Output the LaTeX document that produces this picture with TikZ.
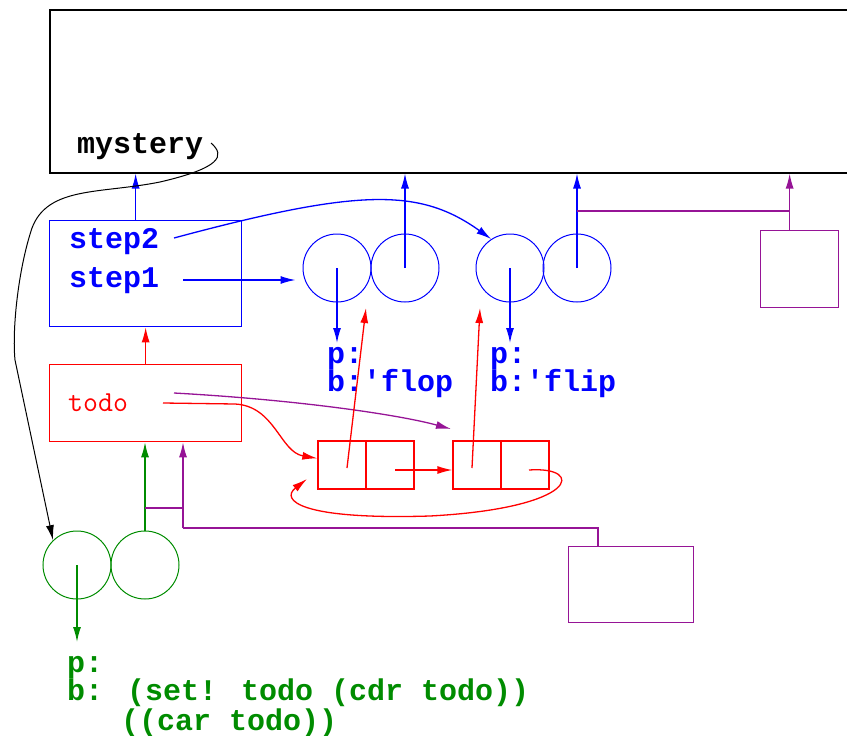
\documentclass[tikz,border=0pt]{standalone}
\usepackage{fontspec}
\newfontfamily\cour{Liberation Mono}
\usetikzlibrary{arrows.meta,calc}
\definecolor{lnblue}{RGB}{0,0,255}
\definecolor{lnred}{RGB}{255,0,0}
\definecolor{lngreen}{RGB}{0,140,0}
\definecolor{lnpurple}{RGB}{150,20,150}
\begin{document}
\begin{tikzpicture}[x=1pt,y=-1pt,
  ptr/.style={-{Latex[length=15pt,width=8pt]}},
  wire/.style={line width=1.3pt},
  pair/.style={circle, draw, line width=1pt, minimum size=68pt, inner sep=0pt},
  cell/.style={draw=lnred, line width=1.3pt, minimum width=48pt, minimum height=48pt, inner sep=0pt},
  frame/.style={draw, line width=1.3pt, anchor=north west, inner sep=0pt},
  code/.style={font=\cour\bfseries\fontsize{30}{30}\selectfont, inner sep=0pt, anchor=base west},
]
\useasboundingbox (0,0) rectangle (847,736);
\clip (0,0) rectangle (847,736);

% global environment (runs off to the right)
\node[frame, line width=1.5pt, minimum width=900pt, minimum height=163pt] (glob) at (49,9) {};
\node[code] (mys) at (77,153) {mystery};

% frame holding step1 / step2
\node[frame, draw=lnblue, minimum width=192pt, minimum height=106pt] (stepbox) at (49,220) {};
\node[code, lnblue] (s2) at (69,248) {step2};
\node[code, lnblue] (s1) at (69,287) {step1};

% frame holding todo
\node[frame, draw=lnred, minimum width=192pt, minimum height=77pt] (todobox) at (49,364) {};
\node[code, lnred, font=\ttfamily\fontsize{29}{29}\selectfont] (todo) at (68,411) {todo};

% empty procedure frames
\node[frame, draw=lnpurple, minimum width=78pt, minimum height=77pt] (pbox1) at (760,230) {};
\node[frame, draw=lnpurple, minimum width=125pt, minimum height=76pt] (pbox2) at (568,546) {};

% procedure objects
\node[pair, draw=lnblue] (c1) at (337,268) {};
\node[pair, draw=lnblue] (c2) at (405,268) {};
\node[pair, draw=lnblue] (c3) at (510,268) {};
\node[pair, draw=lnblue] (c4) at (577,268) {};
\node[pair, draw=lngreen] (g1) at (77,565) {};
\node[pair, draw=lngreen] (g2) at (145,565) {};

% list cells
\node[cell] (a1) at (342,465) {};
\node[cell] (d1) at (390,465) {};
\node[cell] (a2) at (477,465) {};
\node[cell] (d2) at (525,465) {};

% procedure texts
\node[code, lnblue] (pf) at (327,363) {p:};
\node[code, lnblue] (bf) at (327,391) {b:'flop};
\node[code, lnblue] (pi) at (490,363) {p:};
\node[code, lnblue] (bi) at (490,391) {b:'flip};
\node[code, lngreen] (pg) at (67,672) {p:};
\node[code, lngreen] (bg) at (67,700) {b: (set! todo (cdr todo))};
\node[code, lngreen] (bg2) at (121,730) {((car todo))};

% free ends of pointers
\coordinate (mysout) at (211,143);
\coordinate (s1out) at (183,280);
\coordinate (s2out) at (174,238);
\coordinate (todoR) at (163,403);
\coordinate (todoP) at (174,393);
\coordinate (todoPend) at (451,429);
\coordinate (car1) at (347,468);
\coordinate (car2) at (472,468);
\coordinate (cdr1) at (395,470);
\coordinate (cdr2) at (529,470);
\coordinate (loopend) at (307,479);
\coordinate (pfend) at (337,343);
\coordinate (piend) at (510,343);
\coordinate (pgend) at (77,642);
\coordinate (bfstart) at (366,308);
\coordinate (bistart) at (480,308);
\coordinate (hbar) at (789,211);
\coordinate (pjoin) at (183,508);
\coordinate (pdown) at (183,528);
\coordinate (pbox2in) at (598,546);

% enclosing-environment pointers
\draw[wire, lnblue, ptr] ([xshift=-10pt]stepbox.north) -- ([xshift=-10pt]stepbox.north |- glob.south);
\draw[wire, lnred, ptr] (todobox.north) -- (stepbox.south);
\draw[wire, lnblue, ptr] (c2.center) -- (c2.center |- glob.south);
\draw[wire, lnblue, ptr] (c4.center) -- (c4.center |- glob.south);
\draw[wire, lnpurple, ptr] ([xshift=-10pt]pbox1.north) -- ([xshift=-10pt]pbox1.north |- glob.south);
\draw[wire, lnpurple] (c4.center |- hbar) -- (hbar);
\draw[wire, lngreen, ptr] (g2.north) -- (g2.north |- todobox.south);
\draw[wire, lnpurple] (g2.north |- pjoin) -- (pjoin);
\draw[wire, lnpurple, ptr] (pdown) -- (pdown |- todobox.south);
\draw[wire, lnpurple] (pdown) -| (pbox2in);

% code pointers
\draw[wire, lnblue, ptr] (c1.center) -- (pfend);
\draw[wire, lnblue, ptr] (c3.center) -- (piend);
\draw[wire, lngreen, ptr] (g1.center) -- (pgend);

% variable bindings
\draw[wire, lnblue, ptr, shorten >=7pt] (s1out) -- (s1out -| c1.west);
\draw[wire, lnblue, ptr] (s2out) .. controls (360,188) and (420,188) .. (c3.123);
\draw[line width=1pt, ptr] (mysout) .. controls (226,156) and (220,168) .. (160,182)
  .. controls (100,194) and (48,186) .. (32,228)
  .. controls (18,270) and (12,330) .. (15,360) -- (g1.134);
\draw[wire, lnred, ptr] (todoR) -- (235,404) .. controls (275,406) and (280,452) .. (a1.165);
\draw[wire, lnpurple, ptr] (todoP) .. controls (300,400) and (400,415) .. (todoPend);

% list structure
\draw[wire, lnred, ptr] (car1) -- (bfstart);
\draw[wire, lnred, ptr] (car2) -- (bistart);
\draw[wire, lnred, ptr] (cdr1) -- (cdr1 -| a2.west);
\draw[wire, lnred, ptr] (cdr2) .. controls (585,466) and (580,508) .. (430,516)
  .. controls (300,520) and (280,500) .. (loopend);
\end{tikzpicture}
\end{document}
